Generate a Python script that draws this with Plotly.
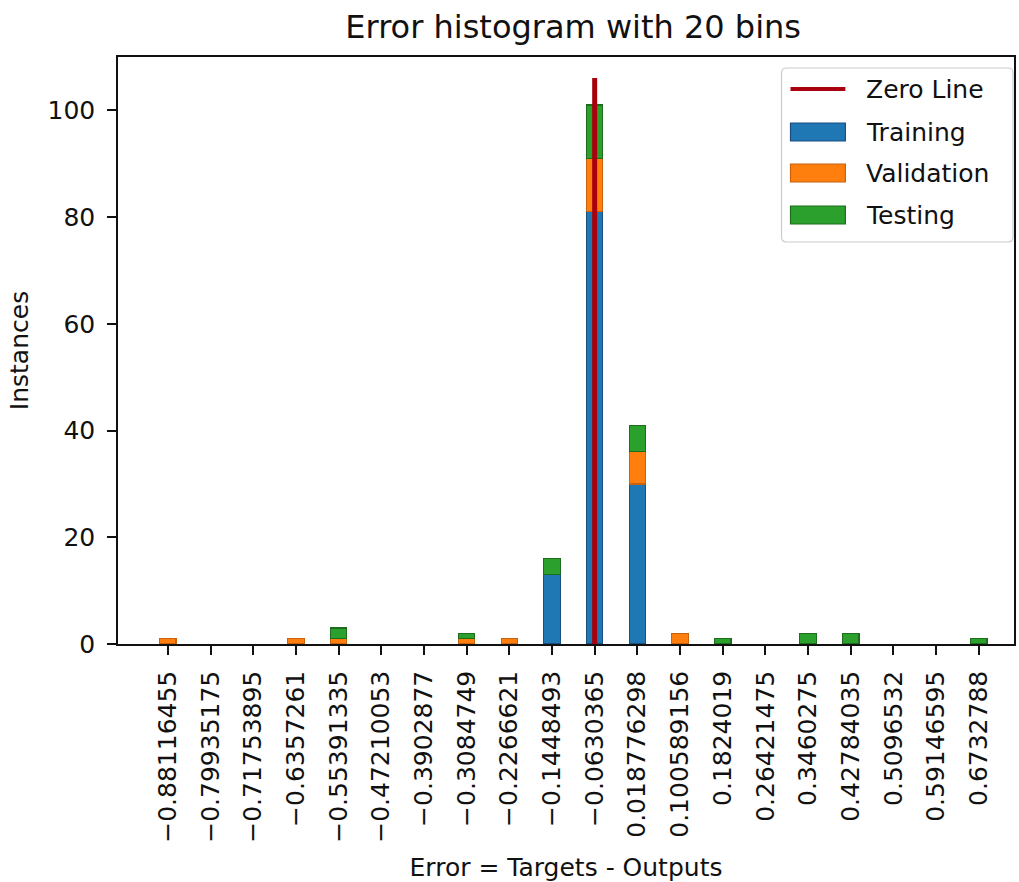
import plotly.graph_objects as go

# Bin centres of the error histogram and their tick labels
bin_centers = [-0.88116455, -0.79935175, -0.71753895, -0.6357261, -0.55391335,
               -0.47210053, -0.3902877, -0.3084749, -0.2266621, -0.1448493,
               -0.0630365, 0.018776298, 0.100589156, 0.1824019, 0.26421475,
               0.3460275, 0.42784035, 0.5096532, 0.59146595, 0.6732788]
tick_labels = ["\u22120.88116455", "\u22120.79935175", "\u22120.71753895", "\u22120.6357261",
               "\u22120.55391335", "\u22120.47210053", "\u22120.3902877", "\u22120.3084749",
               "\u22120.2266621", "\u22120.1448493", "\u22120.0630365", "0.018776298",
               "0.100589156", "0.1824019", "0.26421475", "0.3460275", "0.42784035",
               "0.5096532", "0.59146595", "0.6732788"]

# Instance counts per bin
training = [0, 0, 0, 0, 0, 0, 0, 0, 0, 13, 81, 30, 0, 0, 0, 0, 0, 0, 0, 0]
validation = [1, 0, 0, 1, 1, 0, 0, 1, 1, 0, 10, 6, 2, 0, 0, 0, 0, 0, 0, 0]
testing = [0, 0, 0, 0, 2, 0, 0, 1, 0, 3, 10, 5, 0, 1, 0, 2, 2, 0, 0, 1]

# Zero line: drawn at the central bin, up to 5 % above the tallest stack
zero_line_x = -0.0630365
zero_line_top = 106.05

FONT = "DejaVu Sans"
BAR_WIDTH = 0.0314

series = [
    ("Training", training, "#1f77b4", "#1b4f80"),
    ("Validation", validation, "#ff7f0e", "#c8620c"),
    ("Testing", testing, "#2ca02c", "#1c6e1c"),
]
line_color = "#a8000c"

fig = go.Figure()
for name, counts, fill, edge in series:
    # empty bins are left out so no outline is drawn at zero height
    fig.add_trace(go.Bar(
        x=bin_centers, y=[c if c else None for c in counts], name=name, width=BAR_WIDTH,
        marker=dict(color=fill, line=dict(color=edge, width=1.2)),
        showlegend=False,
    ))

fig.add_trace(go.Scatter(
    x=[zero_line_x, zero_line_x], y=[0, zero_line_top], mode="lines",
    name="Zero Line", line=dict(color=line_color, width=5), showlegend=False,
))

# Legend box drawn in paper coordinates
W, H = 898.0, 587.0
def px(x):
    return (x - 118) / W
def py(y):
    return (644 - y) / H

x0, x1, y0, y1 = px(783), px(1015), py(242), py(68)
rx, ry = 5 / W, 5 / H
box = (f"M{x0+rx},{y0} L{x1-rx},{y0} Q{x1},{y0} {x1},{y0+ry} L{x1},{y1-ry} "
       f"Q{x1},{y1} {x1-rx},{y1} L{x0+rx},{y1} Q{x0},{y1} {x0},{y1-ry} "
       f"L{x0},{y0+ry} Q{x0},{y0} {x0+rx},{y0} Z")
shapes = [dict(type="path", xref="paper", yref="paper", path=box,
               line=dict(color="#cccccc", width=1.2), fillcolor="rgba(255,255,255,0.85)",
               layer="above")]
annotations = []
entry_y = [89, 132, 173, 215]
sx0, sx1 = px(792), px(847)
shapes.append(dict(type="line", xref="paper", yref="paper", x0=sx0, x1=sx1,
                   y0=py(entry_y[0]), y1=py(entry_y[0]),
                   line=dict(color=line_color, width=4), layer="above"))
annotations.append(dict(xref="paper", yref="paper", x=px(866), y=py(entry_y[0]),
                        text="Zero Line", showarrow=False, xanchor="left", yanchor="middle",
                        font=dict(family=FONT, size=25, color="#111")))
for (name, _, fill, edge), ey in zip(series, entry_y[1:]):
    shapes.append(dict(type="rect", xref="paper", yref="paper", x0=sx0, x1=sx1,
                       y0=py(ey + 9), y1=py(ey - 9), fillcolor=fill,
                       line=dict(color=edge, width=1.2), layer="above"))
    annotations.append(dict(xref="paper", yref="paper", x=px(866), y=py(ey),
                            text=name, showarrow=False, xanchor="left", yanchor="middle",
                            font=dict(family=FONT, size=25, color="#111")))

fig.update_layout(
    width=1019, height=882,
    margin=dict(l=118, r=3, t=57, b=238),
    paper_bgcolor="white", plot_bgcolor="white",
    barmode="stack",
    font=dict(family=FONT, size=25, color="#111"),
    title=dict(text="Error histogram with 20 bins", x=0.508, xref="paper",
               y=1 - 27 / 882, yanchor="middle", xanchor="center",
               font=dict(family=FONT, size=32, color="#111")),
    showlegend=False,
    shapes=shapes,
    annotations=annotations,
)

fig.update_xaxes(
    range=[-0.9768, 0.7408], tickmode="array", tickvals=bin_centers, ticktext=tick_labels,
    tickangle=-90, ticks="outside", ticklen=9, tickwidth=1.5, tickcolor="#111",
    ticklabelstandoff=6,
    showline=True, linecolor="#111", linewidth=1.5, mirror=True,
    showgrid=False, zeroline=False,
    tickfont=dict(family=FONT, size=25, color="#111"),
    title=dict(text="Error = Targets - Outputs", standoff=18,
               font=dict(family=FONT, size=25, color="#111")),
)
fig.update_yaxes(
    range=[0, 110], tickvals=[0, 20, 40, 60, 80, 100],
    ticks="outside", ticklen=9, tickwidth=1.5, tickcolor="#111",
    ticklabelstandoff=7,
    showline=True, linecolor="#111", linewidth=1.5, mirror=True,
    showgrid=False, zeroline=False,
    tickfont=dict(family=FONT, size=25, color="#111"),
    title=dict(text="Instances", standoff=12,
               font=dict(family=FONT, size=25, color="#111")),
)

fig.write_html("out.html")
